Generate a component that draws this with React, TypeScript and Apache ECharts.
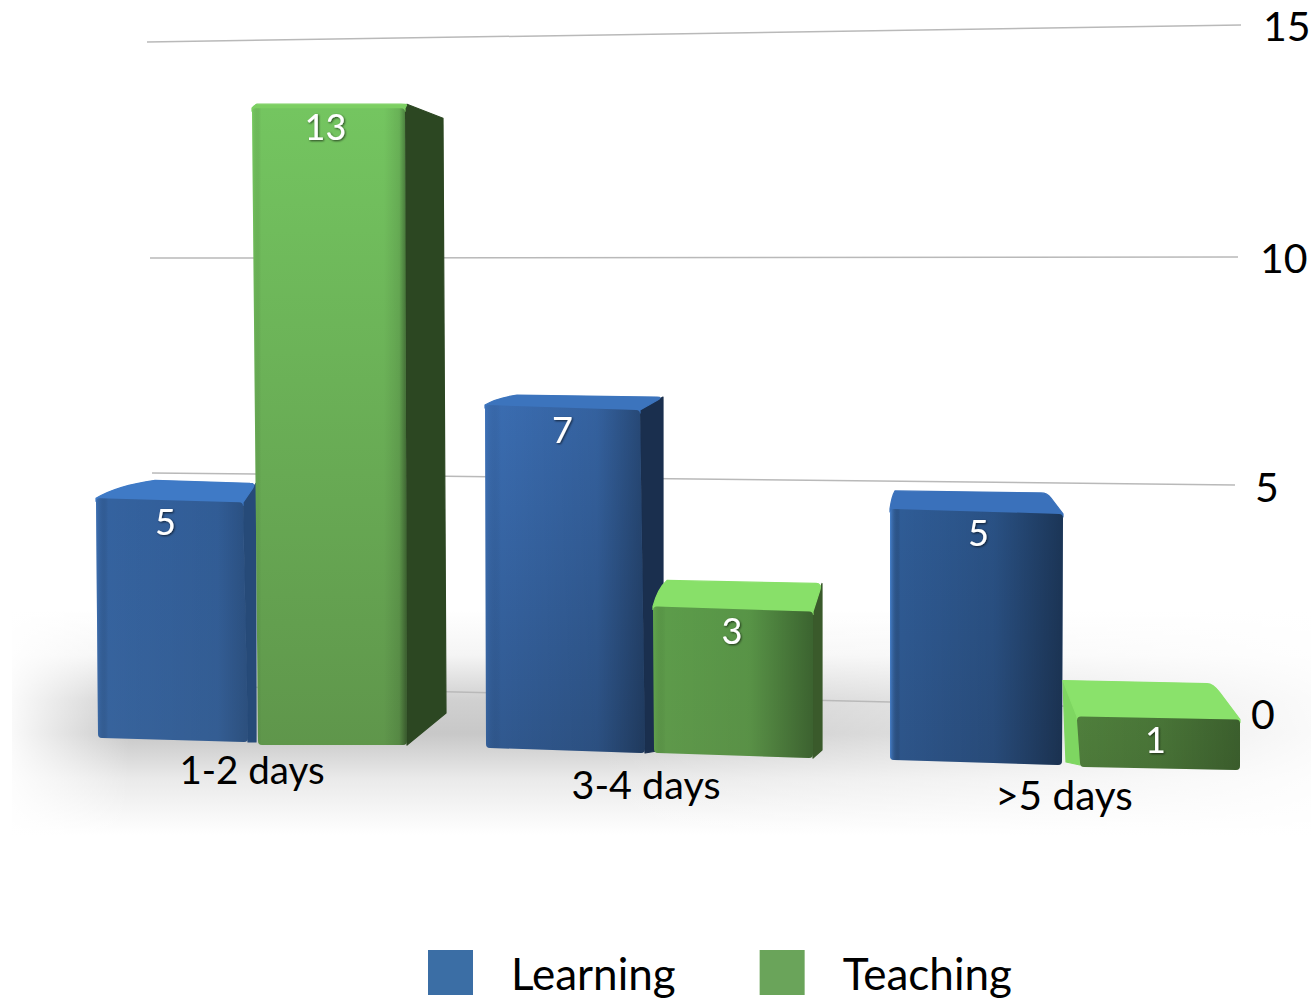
import React, { useEffect, useRef } from "react";
import * as echarts from "echarts";

const categories = ["1-2 days", "3-4 days", ">5 days"];
const learning = [5, 7, 5];
const teaching = [13, 3, 1];
const ticks = [0, 5, 10, 15];
const FONT = "Lato";

// Perspective tweaks (pixels relative to the category band centre and the axis zero line)
const LEARNING_LOOK = [
  { xl: -156, xr: -9, xlb: -154, xrb: -4, baseL: 25, baseR: 29, k: 1.045, backL: [-97, -18], backR: [4, -19], outerTop: [4, -19], outerBot: [4, 29], labelDx: -4, labelDy: 21,
    top: "#3f7ac6", side: "#264a78", fT: "#34629f", fB: "#37639c", over: [[0, "rgba(80,140,220,0.35)"], [0.08, "rgba(0,0,0,0)"], [0.8, "rgba(0,0,0,0.06)"], [1, "rgba(0,0,0,0.2)"]] },
  { xl: -173, xr: -18, xlb: -172, xrb: -13, baseL: 35, baseR: 40, k: 1.068, backL: [-141, -10], backR: [5, -13], outerTop: [5, -13], outerBot: [5, 37], labelDx: 0, labelDy: 21,
    top: "#3c74bd", side: "#1a2f4e", fT: "#3a6cb0", fB: "#30588e", over: [[0, "rgba(80,140,220,0.2)"], [0.1, "rgba(0,0,0,0)"], [0.7, "rgba(0,0,0,0.1)"], [1, "rgba(0,0,0,0.35)"]] },
  { xl: -174, xr: -1, xlb: -174, xrb: -2, baseL: 47, baseR: 52, k: 1.095, backL: [-169, -18], backR: [-17, -21], labelDx: 2, labelDy: 21,
    top: "#3a71bb", side: "#1a2f4e", fT: "#2f5c96", fB: "#2d5488", over: [[0, "rgba(90,160,250,0.55)"], [0.06, "rgba(0,0,0,0)"], [0.6, "rgba(0,0,0,0.12)"], [1, "rgba(0,0,0,0.42)"]] },
];
const TEACHING_LOOK = [
  { xl: 0, xr: 153, xlb: 6, xrb: 155, baseL: 32, baseR: 32, k: 1.068, backL: [5, -4], backR: [155, -4], outerTop: [191, 10], outerBot: [194, 0], labelDx: -3, labelDy: 18,
    top: "#7ccf62", side: "#2c4722", fT: "#74c560", fB: "#5f964b", over: [[0, "rgba(130,220,100,0.25)"], [0.06, "rgba(0,0,0,0)"], [0.85, "rgba(0,0,0,0)"], [0.95, "rgba(0,0,0,0.1)"], [1, "rgba(0,0,0,0.42)"]] },
  { xl: -5, xr: 155, xlb: -4, xrb: 155, baseL: 40, baseR: 45, k: 1.065, backL: [9, -26], backR: [164, -28], outerTop: [164, -21], outerBot: [164, 37], labelDx: -1, labelDy: 21,
    top: "#88e069", side: "#3a5a2b", fT: "#5c9c4a", fB: "#5e984a", over: [[0, "rgba(120,210,90,0.2)"], [0.08, "rgba(0,0,0,0)"], [0.6, "rgba(0,0,0,0.05)"], [1, "rgba(0,0,0,0.36)"]] },
  { xl: 13, xr: 176, xlb: 16, xrb: 176, baseL: 54, baseR: 57, k: 1.1, backL: [-1, -36], backR: [149, -36], leftBot: [2, 49], labelDx: -3, labelDy: 21,
    top: "#8ae26b", side: "#7ed661", fT: "#4f7f3c", fB: "#4d7a3a", over: [[0, "rgba(0,0,0,0)"], [0.5, "rgba(0,0,0,0.08)"], [1, "rgba(0,0,0,0.25)"]] },
];
const GRID_LOOK: Record<number, number[]> = {
  // leftX, leftDy, rightX, rightDy
  0: [155, -28, 1230, -3],
  5: [152, -10.7, 1235, 1.3],
  10: [150, 3.7, 1238, 2.7],
  15: [147, 17, 1241, 0],
};
const TICK_LABEL_LOOK: Record<number, number[]> = {
  // leftX, dy
  0: [1251, 0],
  5: [1255, 3],
  10: [1260, 3],
  15: [1263, 0],
};
const CATEGORY_LABEL_LOOK = [
  // dx, dy, font size
  [0, 56, 38.5],
  [-12, 70, 39.5],
  [0, 81, 40.5],
];

function roundedQuad(xl: number, tl: number, xr: number, tr: number, xrb: number, br: number, xlb: number, bl: number, r: number) {
  return (
    `M${xl} ${tl + r}Q${xl} ${tl} ${xl + r} ${tl}L${xr - r} ${tr}Q${xr} ${tr} ${xr} ${tr + r}` +
    `L${xrb} ${br - r}Q${xrb} ${br} ${xrb - r} ${br}L${xlb + r} ${bl}Q${xlb} ${bl} ${xlb} ${bl - r}Z`
  );
}
function poly(points: number[][]) {
  return "M" + points.map((p) => p.join(" ")).join("L") + "Z";
}

function barRenderer(looks: any[]) {
  return (params: any, api: any) => {
    const cat = api.value(0);
    const val = api.value(1);
    const look = looks[cat];
    const [cx, y0] = api.coord([cat, 0]);
    const yv = api.coord([cat, val])[1];
    const h = (y0 - yv) * look.k;
    const bL = y0 + look.baseL;
    const bR = y0 + look.baseR;
    const tL = bL - h;
    const tR = bR - h;
    const xl = cx + look.xl;
    const xr = cx + look.xr;
    const xlb = cx + look.xlb;
    const xrb = cx + look.xrb;
    const backL = [cx + look.backL[0], tL + look.backL[1]];
    const backR = [cx + look.backR[0], tR + look.backR[1]];
    const children: any[] = [];
    const path = (d: string, fill: any, seam?: boolean) => ({
      type: "path",
      shape: { pathData: d },
      style: seam ? { fill, stroke: fill, lineWidth: 1.2, lineJoin: "round" } : { fill, stroke: "none" },
    });

    if (look.outerTop) {
      children.push(
        path(
          poly([
            [xr, tR],
            backR,
            [cx + look.outerTop[0], tR + look.outerTop[1]],
            [cx + look.outerBot[0], y0 + look.outerBot[1]],
            [xrb, bR],
          ]),
          look.side,
          true,
        ),
      );
    }
    if (look.leftBot) {
      children.push(
        path(
          poly([backL, [xl, tL], [xlb, bL - 2], [cx + look.leftBot[0], y0 + look.leftBot[1]], [backL[0] + 1, backL[1] + 30]]),
          look.side,
          true,
        ),
      );
    }
    const leftEdge = look.leftBot
      ? `M${xl} ${tL}L${backL[0]} ${backL[1]}`
      : `M${xl} ${tL}Q${xl + (backL[0] - xl) * 0.35} ${tL + (backL[1] - tL) * 0.7} ${backL[0]} ${backL[1]}`;
    children.push(
      path(
        leftEdge +
          `L${backR[0] - 6} ${backR[1]}Q${backR[0]} ${backR[1]} ${backR[0] + (xr - backR[0]) * 0.25} ${backR[1] + (tR - backR[1]) * 0.25}` +
          `L${xr} ${tR}L${xr} ${tR + 3}L${xl} ${tL + 3}Z`,
        look.top,
        true,
      ),
    );
    const front = roundedQuad(xl, tL, xr, tR, xrb, bR, xlb, bL, 4);
    children.push(path(front, new echarts.graphic.LinearGradient(0, 0, 0, 1, [{ offset: 0, color: look.fT }, { offset: 1, color: look.fB }])));
    children.push(
      path(front, new echarts.graphic.LinearGradient(0, 0, 1, 0, look.over.map((s: any[]) => ({ offset: s[0], color: s[1] })))),
    );
    children.push({
      type: "text",
      style: {
        text: String(val),
        x: (xl + xr) / 2 + look.labelDx,
        y: (tL + tR) / 2 + look.labelDy,
        fill: "#ffffff",
        font: `36px ${FONT}`,
        align: "center",
        verticalAlign: "middle",
        textShadowColor: "rgba(0,0,0,0.65)",
        textShadowBlur: 2,
        textShadowOffsetX: 1,
        textShadowOffsetY: 1,
      },
    });
    return { type: "group", children };
  };
}

function gridRenderer(params: any, api: any) {
  const v = api.value(1);
  const y = api.coord([0, v])[1];
  const g = GRID_LOOK[v];
  const t = TICK_LABEL_LOOK[v];
  return {
    type: "group",
    children: [
      {
        type: "line",
        shape: { x1: g[0], y1: y + g[1], x2: g[2], y2: y + g[3] },
        style: { stroke: "#b9b9b9", lineWidth: 1.5 },
      },
      {
        type: "text",
        style: { text: String(v), x: t[0], y: y + t[1], fill: "#000", font: `41px ${FONT}`, align: "left", verticalAlign: "middle" },
      },
    ],
  };
}

function categoryLabelRenderer(params: any, api: any) {
  const cat = api.value(0);
  const [cx, y0] = api.coord([cat, 0]);
  const look = CATEGORY_LABEL_LOOK[cat];
  return {
    type: "text",
    style: { text: categories[cat], x: cx + look[0], y: y0 + look[1], fill: "#000", font: `${look[2]}px ${FONT}`, align: "center", verticalAlign: "middle" },
  };
}

export default function App() {
  const ref = useRef<HTMLDivElement>(null);
  useEffect(() => {
    const chart = echarts.init(ref.current!, undefined, { renderer: "svg" });
    const G = echarts.graphic.LinearGradient;
    chart.setOption({
      animation: false,
      backgroundColor: "#ffffff",
      grid: { left: 49, width: 1218, top: 25, height: 688 },
      xAxis: { type: "category", data: categories, show: false },
      yAxis: { type: "value", min: 0, max: 15, interval: 5, show: false },
      legend: {
        left: 423,
        top: 945,
        icon: "rect",
        itemWidth: 45,
        itemHeight: 45,
        itemGap: 84,
        selectedMode: false,
        data: ["Learning", "Teaching"],
        textStyle: { fontFamily: FONT, fontSize: 44, color: "#000", padding: [0, 0, 0, 33] },
      },
      graphic: [
        {
          type: "rect",
          z: 0,
          shape: { x: 12, y: 610, width: 1299, height: 225 },
          style: {
            fill: new G(0, 0, 0, 1, [
              { offset: 0, color: "rgba(170,170,170,0)" },
              { offset: 0.2, color: "rgba(170,170,170,0.12)" },
              { offset: 0.4, color: "rgba(170,170,170,0.55)" },
              { offset: 0.55, color: "rgba(170,170,170,0.65)" },
              { offset: 0.75, color: "rgba(170,170,170,0.25)" },
              { offset: 1, color: "rgba(170,170,170,0)" },
            ]),
          },
        },
        {
          type: "rect",
          z: 0,
          shape: { x: 12, y: 610, width: 1299, height: 225 },
          style: {
            fill: new G(0, 0, 1, 0, [
              { offset: 0, color: "rgba(255,255,255,0.9)" },
              { offset: 0.09, color: "rgba(255,255,255,0)" },
              { offset: 0.45, color: "rgba(255,255,255,0)" },
              { offset: 0.8, color: "rgba(255,255,255,0.55)" },
              { offset: 1, color: "rgba(255,255,255,0.9)" },
            ]),
          },
        },
      ],
      series: [
        {
          type: "custom",
          name: "grid",
          z: 1,
          coordinateSystem: "cartesian2d",
          renderItem: gridRenderer,
          encode: { x: 0, y: 1 },
          data: ticks.map((t) => [0, t]),
          silent: true,
        },
        {
          type: "custom",
          name: "Learning",
          z: 3,
          coordinateSystem: "cartesian2d",
          renderItem: barRenderer(LEARNING_LOOK),
          encode: { x: 0, y: 1 },
          itemStyle: { color: "#3b6ea5" },
          data: learning.map((v, i) => [i, v]),
        },
        {
          type: "custom",
          name: "Teaching",
          z: 4,
          coordinateSystem: "cartesian2d",
          renderItem: barRenderer(TEACHING_LOOK),
          encode: { x: 0, y: 1 },
          itemStyle: { color: "#6aa45a" },
          data: teaching.map((v, i) => [i, v]),
        },
        {
          type: "custom",
          name: "categories",
          z: 5,
          coordinateSystem: "cartesian2d",
          renderItem: categoryLabelRenderer,
          encode: { x: 0, y: 1 },
          data: categories.map((_, i) => [i, 0]),
          silent: true,
        },
      ],
    });
    return () => chart.dispose();
  }, []);
  return <div ref={ref} style={{ position: "fixed", left: 0, top: 0, width: 1311, height: 999 }} />;
}
